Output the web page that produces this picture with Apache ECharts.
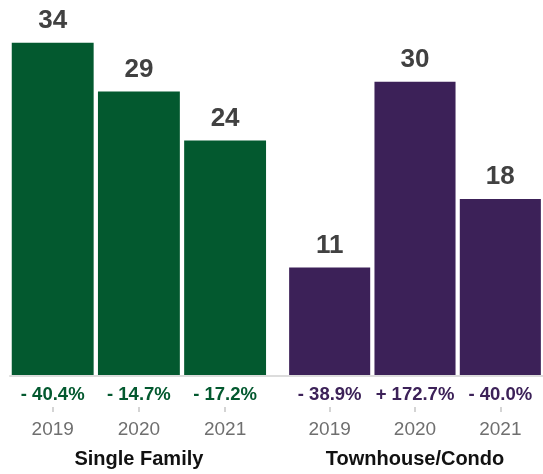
<!DOCTYPE html>
<html>
<head>
<meta charset="utf-8">
<script src="https://cdn.jsdelivr.net/npm/echarts@6/dist/echarts.min.js"></script>
<style>
  html, body { margin: 0; padding: 0; background: #fff; }
  #chart { width: 543px; height: 474px; }
</style>
</head>
<body>
<div id="chart"></div>
<script>
// Closed sales by year, two property types
const years = ['2019', '2020', '2021'];
const singleFamily = [34, 29, 24];
const townhouseCondo = [11, 30, 18];
const singleFamilyChange = ['- 40.4%', '- 14.7%', '- 17.2%'];
const townhouseCondoChange = ['- 38.9%', '+ 172.7%', '- 40.0%'];
const groupNames = ['Single Family', 'Townhouse/Condo'];

const GREEN = '#03592F';
const PURPLE = '#3C2158';
const FONT = '"Liberation Sans", Arial, Helvetica, sans-serif';

const groups = [
  { values: singleFamily, change: singleFamilyChange, color: GREEN, name: groupNames[0] },
  { values: townhouseCondo, change: townhouseCondoChange, color: PURPLE, name: groupNames[1] }
];

const gridTop = 23.2;
const gridBottom = 98;
const grids = [
  { left: 9.6, width: 258.6, top: gridTop, bottom: gridBottom },
  { left: 287, right: -2.6, top: gridTop, bottom: gridBottom },
  // shared baseline rule running under both groups
  { left: 10, right: 0, top: gridTop, bottom: gridBottom }
];

const xAxes = [];
const yAxes = [];
const series = [];

groups.forEach((g, i) => {
  // percent change row directly under the bars
  xAxes.push({
    type: 'category', gridIndex: i, data: years, position: 'bottom',
    axisLine: { show: false }, axisTick: { show: false },
    axisLabel: {
      interval: 0, hideOverlap: false,
      margin: 10, fontFamily: FONT, fontSize: 18.5, fontWeight: 'bold', color: g.color,
      formatter: (v, idx) => g.change[idx]
    }
  });
  // year ticks and group title
  xAxes.push({
    type: 'category', gridIndex: i, data: years, position: 'bottom', offset: 32,
    axisLine: { show: false },
    axisTick: { show: true, alignWithLabel: true, length: 5, lineStyle: { color: '#d4d4d4', width: 2 } },
    axisLabel: { interval: 0, margin: 13, fontFamily: FONT, fontSize: 19, color: '#6f6f6f' },
    name: g.name, nameLocation: 'middle', nameGap: 42,
    nameTextStyle: { fontFamily: FONT, fontSize: 20, fontWeight: 'bold', color: '#111' }
  });
  yAxes.push({ type: 'value', gridIndex: i, min: 0, max: 36, show: false, splitLine: { show: false } });
  series.push({
    type: 'bar', xAxisIndex: 2 * i, yAxisIndex: i, data: g.values,
    barCategoryGap: '5%',
    itemStyle: { color: g.color },
    label: {
      show: true, position: 'top', distance: 9,
      fontFamily: FONT, fontSize: 26, fontWeight: 'bold', color: '#414141'
    }
  });
});

xAxes.push({
  type: 'category', gridIndex: 2, data: [''], position: 'bottom', offset: 32,
  axisLine: { show: true, lineStyle: { color: '#dcdcdc', width: 2 } },
  axisTick: { show: false }, axisLabel: { show: false }
});
yAxes.push({ type: 'value', gridIndex: 2, min: 0, max: 36, show: false, splitLine: { show: false } });

const chart = echarts.init(document.getElementById('chart'), null, { renderer: 'canvas' });
chart.setOption({
  animation: false,
  backgroundColor: '#fff',
  grid: grids,
  xAxis: xAxes,
  yAxis: yAxes,
  series: series
});
</script>
</body>
</html>
